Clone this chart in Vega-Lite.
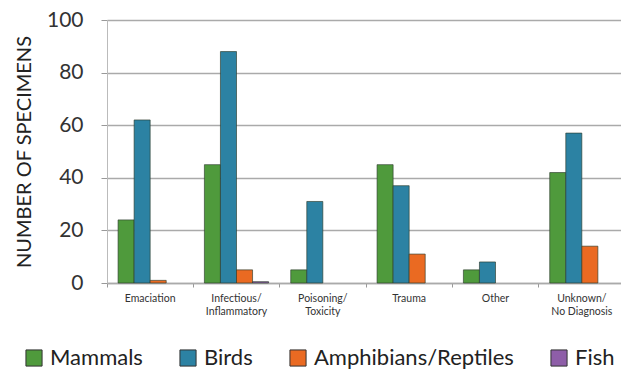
{
  "$schema": "https://vega.github.io/schema/vega-lite/v6.json",
  "autosize": "none",
  "width": 518,
  "height": 263,
  "padding": {"left": 107, "top": 20, "right": 0, "bottom": 90},
  "background": "white",
  "config": {
    "font": "Lato",
    "view": {"stroke": null}
  },
  "data": {
    "values": [
      {"cause": "Emaciation", "group": "Mammals", "n": 24},
      {"cause": "Emaciation", "group": "Birds", "n": 62},
      {"cause": "Emaciation", "group": "Amphibians/Reptiles", "n": 1},
      {"cause": "Infectious/|Inflammatory", "group": "Mammals", "n": 45},
      {"cause": "Infectious/|Inflammatory", "group": "Birds", "n": 88},
      {"cause": "Infectious/|Inflammatory", "group": "Amphibians/Reptiles", "n": 5},
      {"cause": "Infectious/|Inflammatory", "group": "Fish", "n": 0.5},
      {"cause": "Poisoning/|Toxicity", "group": "Mammals", "n": 5},
      {"cause": "Poisoning/|Toxicity", "group": "Birds", "n": 31},
      {"cause": "Trauma", "group": "Mammals", "n": 45},
      {"cause": "Trauma", "group": "Birds", "n": 37},
      {"cause": "Trauma", "group": "Amphibians/Reptiles", "n": 11},
      {"cause": "Other", "group": "Mammals", "n": 5},
      {"cause": "Other", "group": "Birds", "n": 8},
      {"cause": "Unknown/|No Diagnosis", "group": "Mammals", "n": 42},
      {"cause": "Unknown/|No Diagnosis", "group": "Birds", "n": 57},
      {"cause": "Unknown/|No Diagnosis", "group": "Amphibians/Reptiles", "n": 14}
    ]
  },
  "mark": {"type": "bar", "stroke": "#2a3a2a", "strokeWidth": 0.8, "strokeOpacity": 0.8},
  "encoding": {
    "x": {
      "field": "cause",
      "type": "nominal",
      "sort": ["Emaciation", "Infectious/|Inflammatory", "Poisoning/|Toxicity", "Trauma", "Other", "Unknown/|No Diagnosis"],
      "scale": {"paddingInner": 0, "paddingOuter": 0},
      "axis": {
        "title": null,
        "labelAngle": 0,
        "labelExpr": "split(datum.label, '|')",
        "labelFontSize": 10.5,
        "labelColor": "#333",
        "labelPadding": 6,
        "bandPosition": 0,
        "tickColor": "#999",
        "tickSize": 4,
        "domainColor": "#aaa",
        "domainWidth": 1.5,
        "labelLineHeight": 13
      }
    },
    "xOffset": {
      "field": "group",
      "type": "nominal",
      "sort": ["Mammals", "Birds", "Amphibians/Reptiles", "Fish"],
      "scale": {"domain": ["Mammals", "Birds", "Amphibians/Reptiles", "Fish"], "paddingInner": 0, "paddingOuter": 0.69}
    },
    "y": {
      "field": "n",
      "type": "quantitative",
      "scale": {"domain": [0, 100]},
      "axis": {
        "title": "NUMBER OF SPECIMENS",
        "titleFontSize": 20,
        "titleFontWeight": "normal",
        "titleColor": "#222",
        "titlePadding": 12,
        "values": [0, 20, 40, 60, 80, 100],
        "labelFontSize": 21,
        "labelColor": "#333",
        "labelPadding": 18,
        "tickSize": 6,
        "tickColor": "#999",
        "domainColor": "#bbb",
        "gridColor": "#aaa",
        "gridWidth": 1.5
      }
    },
    "color": {
      "field": "group",
      "type": "nominal",
      "scale": {
        "domain": ["Mammals", "Birds", "Amphibians/Reptiles", "Fish"],
        "range": ["#4f9a3c", "#2c82a3", "#ea6a22", "#8e5ea8"]
      },
      "legend": {
        "title": null,
        "orient": "none",
        "direction": "horizontal",
        "legendX": -84,
        "legendY": 327,
        "symbolType": "square",
        "symbolSize": 260,
        "symbolStrokeColor": "#333",
        "symbolStrokeWidth": 1,
        "symbolOpacity": 1,
        "labelFontSize": 22,
        "labelColor": "#222",
        "labelOffset": 5,
        "columnPadding": 34,
        "labelLimit": 400
      }
    }
  }
}
